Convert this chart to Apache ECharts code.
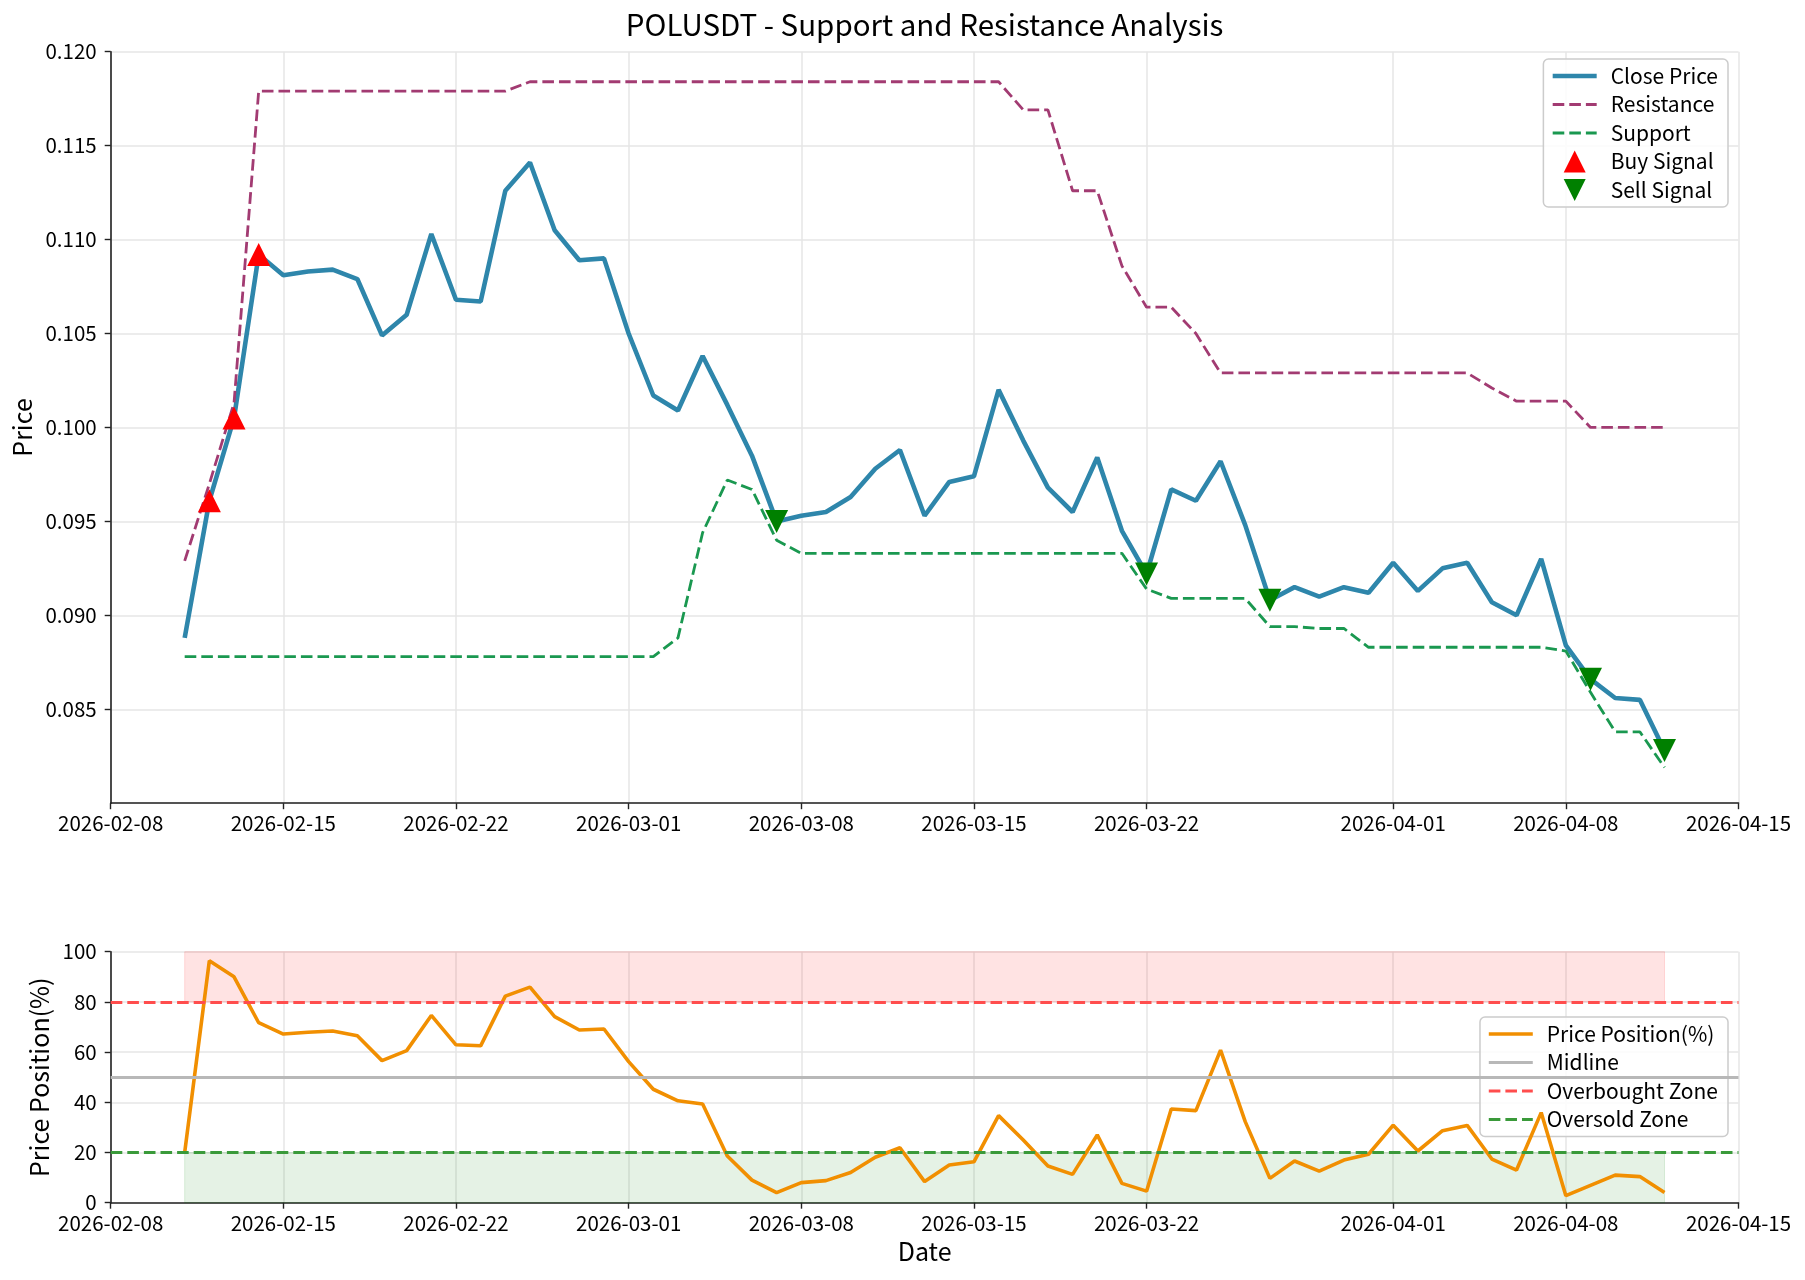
<!DOCTYPE html>
<html>
<head>
<meta charset="utf-8">
<script src="https://cdn.jsdelivr.net/npm/echarts@6/dist/echarts.min.js"></script>
<style>html,body{margin:0;padding:0;background:#fff}#c{width:1805px;height:1280px}</style>
</head>
<body>
<div id="c"></div>
<script>
// ---------- data ----------
const dates = [
  '2026-02-11','2026-02-12','2026-02-13','2026-02-14','2026-02-15','2026-02-16','2026-02-17','2026-02-18','2026-02-19','2026-02-20',
  '2026-02-21','2026-02-22','2026-02-23','2026-02-24','2026-02-25','2026-02-26','2026-02-27','2026-02-28','2026-03-01','2026-03-02',
  '2026-03-03','2026-03-04','2026-03-05','2026-03-06','2026-03-07','2026-03-08','2026-03-09','2026-03-10','2026-03-11','2026-03-12',
  '2026-03-13','2026-03-14','2026-03-15','2026-03-16','2026-03-17','2026-03-18','2026-03-19','2026-03-20','2026-03-21','2026-03-22',
  '2026-03-23','2026-03-24','2026-03-25','2026-03-26','2026-03-27','2026-03-28','2026-03-29','2026-03-30','2026-03-31','2026-04-01',
  '2026-04-02','2026-04-03','2026-04-04','2026-04-05','2026-04-06','2026-04-07','2026-04-08','2026-04-09','2026-04-10','2026-04-11',
  '2026-04-12'
];
const closePrice = [
  0.0888,0.0961,0.1005,0.1092,0.1081,0.1083,0.1084,0.1079,0.1049,0.1060,
  0.1103,0.1068,0.1067,0.1126,0.1141,0.1105,0.1089,0.1090,0.1050,0.1017,
  0.1009,0.1038,0.1012,0.0985,0.0950,0.0953,0.0955,0.0963,0.0978,0.0988,
  0.0953,0.0971,0.0974,0.1020,0.0993,0.0968,0.0955,0.0984,0.0945,0.0922,
  0.0967,0.0961,0.0982,0.0948,0.0908,0.0915,0.0910,0.0915,0.0912,0.0928,
  0.0913,0.0925,0.0928,0.0907,0.0900,0.0930,0.0884,0.0866,0.0856,0.0855,
  0.0828
];
const resistance = [
  0.0929,0.0970,0.1013,0.1179,0.1179,0.1179,0.1179,0.1179,0.1179,0.1179,
  0.1179,0.1179,0.1179,0.1179,0.1184,0.1184,0.1184,0.1184,0.1184,0.1184,
  0.1184,0.1184,0.1184,0.1184,0.1184,0.1184,0.1184,0.1184,0.1184,0.1184,
  0.1184,0.1184,0.1184,0.1184,0.1169,0.1169,0.1126,0.1126,0.1086,0.1064,
  0.1064,0.1050,0.1029,0.1029,0.1029,0.1029,0.1029,0.1029,0.1029,0.1029,
  0.1029,0.1029,0.1029,0.1021,0.1014,0.1014,0.1014,0.1000,0.1000,0.1000,
  0.1000
];
const support = [
  0.0878,0.0878,0.0878,0.0878,0.0878,0.0878,0.0878,0.0878,0.0878,0.0878,
  0.0878,0.0878,0.0878,0.0878,0.0878,0.0878,0.0878,0.0878,0.0878,0.0878,
  0.0888,0.0944,0.0972,0.0967,0.0940,0.0933,0.0933,0.0933,0.0933,0.0933,
  0.0933,0.0933,0.0933,0.0933,0.0933,0.0933,0.0933,0.0933,0.0933,0.0914,
  0.0909,0.0909,0.0909,0.0909,0.0894,0.0894,0.0893,0.0893,0.0883,0.0883,
  0.0883,0.0883,0.0883,0.0883,0.0883,0.0883,0.0881,0.0859,0.0838,0.0838,
  0.0819
];
const pricePosition = [
  20.0,96.4,90.0,71.7,67.2,67.9,68.4,66.5,56.6,60.6,
  74.6,62.9,62.5,82.3,85.9,74.1,68.8,69.2,56.2,45.2,
  40.6,39.3,18.6,9.0,4.0,8.0,8.8,12.0,18.1,21.9,
  8.4,15.0,16.3,34.7,25.0,14.6,11.3,27.0,7.7,4.6,
  37.3,36.7,60.8,32.3,9.7,16.6,12.6,17.0,19.3,30.9,
  20.6,28.7,30.8,17.4,13.0,35.9,2.8,6.9,11.0,10.4,
  4.1
];
const buyDates = ['2026-02-12','2026-02-13','2026-02-14'];
const sellDates = ['2026-03-07','2026-03-22','2026-03-27','2026-04-09','2026-04-12'];
const xTickLabels = ['2026-02-08','2026-02-15','2026-02-22','2026-03-01','2026-03-08','2026-03-15','2026-03-22','2026-04-01','2026-04-08','2026-04-15'];
const axisStart = '2026-02-08';
const axisEnd = '2026-04-15';
const midlineLevel = [50];
const overboughtBand = [80, 100];
const oversoldBand = [0, 20];

// ---------- helpers ----------
const FONT = 'Noto Sans CJK SC';
function dayRange(a, b) {
  const toUTC = s => Date.UTC(+s.slice(0, 4), +s.slice(5, 7) - 1, +s.slice(8, 10));
  const out = [];
  for (let t = toUTC(a); t <= toUTC(b); t += 86400000) out.push(new Date(t).toISOString().slice(0, 10));
  return out;
}
const categories = dayRange(axisStart, axisEnd);
const isTick = (i, v) => xTickLabels.indexOf(v !== undefined ? v : categories[i]) >= 0;
const pair = arr => dates.map((d, i) => [d, arr[i]]);
const signalPoints = list => list.map(d => [d, closePrice[dates.indexOf(d)]]);
const UP_TRI = 'path://M1,0L2,2L0,2Z';
const DOWN_TRI = 'path://M0,0L2,0L1,2Z';
const DASH = [11.6, 5];
const AXIS_COLOR = '#222';
const GRID_COLOR = '#e6e6e6';
const C_CLOSE = '#2E86AB', C_RES = '#A23B72', C_SUP = '#1A9850', C_POS = '#F18F01';
const C_MID = '#b8b8b8', C_OB = '#FF4D4D', C_OS = '#3A9A3A';
const lineItem = (name, color, width, type) => ({
  name, itemStyle: { opacity: 0 },
  lineStyle: { color, width, type: type || 'solid', opacity: 1 }
});

function xAxisFor(gi, name) {
  return {
    type: 'category', gridIndex: gi, data: categories, boundaryGap: false,
    name: name || '', nameLocation: 'middle', nameGap: 36,
    nameTextStyle: { fontFamily: FONT, fontSize: 25, color: '#000' },
    axisLine: { show: true, lineStyle: { color: AXIS_COLOR, width: 1.6 } },
    axisTick: { show: true, interval: isTick, length: 6, lineStyle: { color: AXIS_COLOR, width: 1.4 } },
    axisLabel: { interval: isTick, margin: 10, fontFamily: FONT, fontSize: 20.5, color: '#000' },
    splitLine: { show: true, interval: isTick, lineStyle: { color: GRID_COLOR, width: 1.5 } }
  };
}
function yAxisFor(gi, opts) {
  return Object.assign({
    type: 'value', gridIndex: gi, nameLocation: 'middle',
    nameTextStyle: { fontFamily: FONT, fontSize: 25, color: '#000' },
    axisLine: { show: true, lineStyle: { color: AXIS_COLOR, width: 1.6 } },
    axisTick: { show: true, length: 6, lineStyle: { color: AXIS_COLOR, width: 1.4 } },
    splitLine: { show: true, lineStyle: { color: GRID_COLOR, width: 1.5 } }
  }, opts);
}
const legendBase = {
  orient: 'vertical', right: 77,
  itemWidth: 44, itemHeight: 22, itemGap: 6.5,
  padding: [6, 10, 6, 7],
  backgroundColor: 'rgba(255,255,255,0.85)', borderColor: '#cccccc', borderWidth: 1.5, borderRadius: 5,
  selectedMode: false,
  textStyle: { fontFamily: FONT, fontSize: 21, color: '#000', lineHeight: 22, padding: [0, 0, 0, 9] }
};

const chart = echarts.init(document.getElementById('c'), null, { renderer: 'canvas' });
const lastDate = dates[dates.length - 1];
chart.setOption({
  animation: false,
  backgroundColor: '#ffffff',
  title: {
    text: 'POLUSDT - Support and Resistance Analysis',
    left: 924.6, top: 10, textAlign: 'center', padding: 0,
    textStyle: { fontFamily: FONT, fontSize: 29.5, fontWeight: 'normal', color: '#000' }
  },
  grid: [
    { left: 110.7, right: 66.5, top: 51.7, height: 751.5 },
    { left: 110.7, right: 66.5, top: 951.7, height: 251 }
  ],
  xAxis: [xAxisFor(0), xAxisFor(1, 'Date')],
  yAxis: [
    yAxisFor(0, {
      min: 0.080, max: 0.120, interval: 0.005, name: 'Price', nameGap: 74,
      axisLabel: { showMinLabel: false, formatter: v => v.toFixed(3), margin: 14, fontFamily: FONT, fontSize: 20.5, color: '#000' }
    }),
    yAxisFor(1, {
      min: 0, max: 100, interval: 20, name: 'Price Position(%)', nameGap: 51,
      axisLabel: { margin: 14, fontFamily: FONT, fontSize: 20.5, color: '#000' }
    })
  ],
  legend: [
    Object.assign({}, legendBase, {
      top: 59,
      data: [lineItem('Close Price', C_CLOSE, 4.6), lineItem('Resistance', C_RES, 2.8, DASH), lineItem('Support', C_SUP, 2.8, DASH),
        { name: 'Buy Signal', icon: UP_TRI }, { name: 'Sell Signal', icon: DOWN_TRI }]
    }),
    Object.assign({}, legendBase, {
      top: 1017,
      data: [lineItem('Price Position(%)', C_POS, 3.6), lineItem('Midline', C_MID, 3), lineItem('Overbought Zone', C_OB, 2.8, DASH), lineItem('Oversold Zone', C_OS, 2.8, DASH)]
    })
  ],
  series: [
    {
      name: 'Close Price', type: 'line', xAxisIndex: 0, yAxisIndex: 0, data: pair(closePrice),
      symbol: 'none', showSymbol: false, z: 2,
      lineStyle: { color: C_CLOSE, width: 4.6 }, itemStyle: { color: C_CLOSE }
    },
    {
      name: 'Resistance', type: 'line', xAxisIndex: 0, yAxisIndex: 0, data: pair(resistance),
      symbol: 'none', showSymbol: false, z: 3,
      lineStyle: { color: C_RES, width: 2.8, type: DASH }, itemStyle: { color: C_RES }
    },
    {
      name: 'Support', type: 'line', xAxisIndex: 0, yAxisIndex: 0, data: pair(support),
      symbol: 'none', showSymbol: false, z: 3,
      lineStyle: { color: C_SUP, width: 2.8, type: DASH }, itemStyle: { color: C_SUP }
    },
    {
      name: 'Buy Signal', type: 'scatter', xAxisIndex: 0, yAxisIndex: 0, data: signalPoints(buyDates),
      symbol: UP_TRI, symbolSize: 23, z: 5, itemStyle: { color: '#FF0000', opacity: 1 }
    },
    {
      name: 'Sell Signal', type: 'scatter', xAxisIndex: 0, yAxisIndex: 0, data: signalPoints(sellDates),
      symbol: DOWN_TRI, symbolSize: 23, z: 5, itemStyle: { color: '#008000', opacity: 1 }
    },
    {
      name: 'Price Position(%)', type: 'line', xAxisIndex: 1, yAxisIndex: 1, data: pair(pricePosition),
      symbol: 'none', showSymbol: false, z: 4,
      lineStyle: { color: C_POS, width: 3.6 }, itemStyle: { color: C_POS }
    },
    {
      name: 'Midline', type: 'line', xAxisIndex: 1, yAxisIndex: 1, data: [],
      symbol: 'none', z: 2,
      lineStyle: { color: C_MID, width: 3 }, itemStyle: { color: C_MID },
      markLine: {
        silent: true, symbol: ['none', 'none'], label: { show: false },
        lineStyle: { color: C_MID, width: 3, type: 'solid' },
        data: midlineLevel.map(v => ({ yAxis: v }))
      }
    },
    {
      name: 'Overbought Zone', type: 'line', xAxisIndex: 1, yAxisIndex: 1, data: [],
      symbol: 'none', z: 3,
      lineStyle: { color: C_OB, width: 2.8, type: DASH }, itemStyle: { color: C_OB },
      markLine: {
        silent: true, symbol: ['none', 'none'], label: { show: false },
        lineStyle: { color: C_OB, width: 2.8, type: DASH },
        data: [{ yAxis: overboughtBand[0] }]
      },
      markArea: {
        silent: true,
        itemStyle: { color: 'rgba(255,0,0,0.11)', borderColor: 'rgba(255,0,0,0.12)', borderWidth: 1 },
        data: [[{ xAxis: dates[0], yAxis: overboughtBand[0] }, { xAxis: lastDate, yAxis: overboughtBand[1] }]]
      }
    },
    {
      name: 'Oversold Zone', type: 'line', xAxisIndex: 1, yAxisIndex: 1, data: [],
      symbol: 'none', z: 3,
      lineStyle: { color: C_OS, width: 2.8, type: DASH }, itemStyle: { color: C_OS },
      markLine: {
        silent: true, symbol: ['none', 'none'], label: { show: false },
        lineStyle: { color: C_OS, width: 2.8, type: DASH },
        data: [{ yAxis: oversoldBand[1] }]
      },
      markArea: {
        silent: true,
        itemStyle: { color: 'rgba(0,128,0,0.10)', borderColor: 'rgba(0,128,0,0.12)', borderWidth: 1 },
        data: [[{ xAxis: dates[0], yAxis: oversoldBand[0] }, { xAxis: lastDate, yAxis: oversoldBand[1] }]]
      }
    }
  ]
});
</script>
</body>
</html>
